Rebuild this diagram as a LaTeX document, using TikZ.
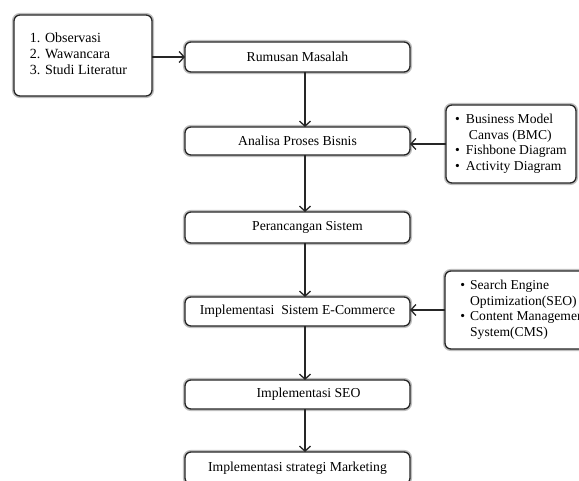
\documentclass[tikz,border=0pt]{standalone}
\usepackage{fontspec}
\setmainfont{Liberation Serif}
\usetikzlibrary{arrows.meta}
\begin{document}
\begin{tikzpicture}[x=1pt,y=-1pt,
  box/.style={draw=black!85, line width=1.3pt, rounded corners=6pt, fill=white,
    preaction={draw=black!25, line width=4.2pt},
    inner sep=0pt, outer sep=0pt, font=\fontsize{13.7}{15.7}\selectfont},
  stepbox/.style={box, minimum width=225pt},
  arr/.style={draw=black!85, line width=1.3pt, -{Straight Barb[length=5pt,width=11pt,line width=1.3pt]}}]
\useasboundingbox (0,0) rectangle (579,481);
\clip (0,0) rectangle (579,481);
% left input box
\node[box, minimum width=138pt, minimum height=81pt, align=left,
      font=\fontsize{14}{16}\selectfont] (src) at (83,55.5)
  {\begin{tabular}{@{}l@{}}1. Observasi\\2. Wawancara\\3. Studi Literatur\end{tabular}\hspace*{9pt}};
% main steps
\node[stepbox, minimum height=30pt] (rm) at (297.5,57) {Rumusan Masalah};
\node[stepbox, minimum height=28pt] (an) at (297.5,141) {Analisa Proses Bisnis};
\node[stepbox, minimum height=31pt] (pr) at (297.5,227.5) {\hspace*{20pt}Perancangan Sistem};
\node[stepbox, minimum height=29pt] (ie) at (297.5,311.5) {Implementasi\ \ Sistem E-Commerce};
\node[stepbox, minimum height=29pt] (seo) at (297.5,394.5) {\hspace*{22pt}Implementasi SEO};
\node[stepbox, minimum height=32pt] (mk) at (297.5,468) {Implementasi strategi Marketing};
% side boxes
\node[box, minimum width=130pt, minimum height=78pt, align=left,
      font=\fontsize{13.6}{15.7}\selectfont] (bmc) at (511,144)
  {\begin{tabular}{@{}l@{\hspace{6pt}}l@{}}\textbullet & Business Model\\ & \hspace*{3pt}Canvas (BMC)\\ \textbullet & Fishbone Diagram\\ \textbullet & Activity Diagram\end{tabular}};
\node[box, minimum width=150pt, minimum height=78pt, anchor=west,
      font=\fontsize{13.6}{15.7}\selectfont] (cms) at (445,310)
  {\hspace*{8pt}\begin{tabular}{@{}l@{\hspace{5pt}}l@{}}\textbullet & Search Engine\\ & Optimization(SEO)\\ \textbullet & Content Management\\ & System(CMS)\end{tabular}\hfill};
% connectors
\draw[arr] (src.east |- rm.west) -- (rm.west);
\draw[arr] ([xshift=7.5pt]rm.south) -- ([xshift=7.5pt]an.north);
\draw[arr] ([xshift=7.5pt]an.south) -- ([xshift=7.5pt]pr.north);
\draw[arr] ([xshift=7.5pt]pr.south) -- ([xshift=7.5pt]ie.north);
\draw[arr] ([xshift=7.5pt]ie.south) -- ([xshift=7.5pt]seo.north);
\draw[arr] ([xshift=7.5pt]seo.south) -- ([xshift=7.5pt]mk.north);
\draw[arr] (bmc.west) -- (bmc.west -| an.east);
\draw[arr] (cms.west) -- (cms.west -| ie.east);
\end{tikzpicture}
\end{document}
